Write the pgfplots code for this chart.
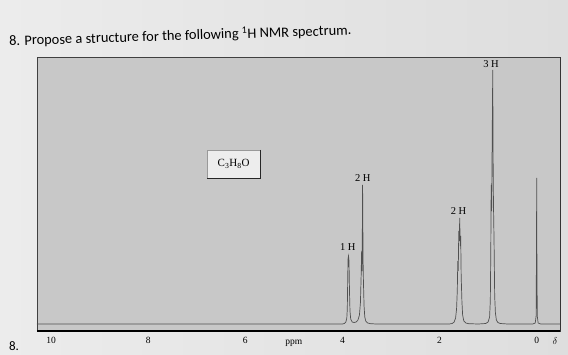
\documentclass[border=0pt]{standalone}
\usepackage{fontspec}
\setmainfont{Liberation Serif}
\newfontfamily\titlefont{Carlito}
\usepackage{pgfplots}
\pgfplotsset{compat=1.18}
\definecolor{outbg}{RGB}{222,222,222}
\definecolor{outbgl}{RGB}{236,236,236}
\definecolor{inbg}{RGB}{200,200,200}
\definecolor{spec}{RGB}{80,80,80}
\begin{document}
\begin{tikzpicture}
\path[use as bounding box] (0,0) rectangle (568pt,354pt);
\shade[left color=outbgl, right color=outbg] (0,0) rectangle (568pt,354pt);
\node[anchor=west, rotate=1.8, inner sep=0pt] at (9pt,313pt) {\titlefont\fontsize{14.4}{16}\selectfont 8. Propose a structure for the following \textsuperscript{1}H NMR spectrum.};
\node[anchor=center, inner sep=0pt] at (14pt,8pt) {\titlefont\fontsize{13}{15}\selectfont 8.};
\begin{axis}[
  at={(37pt,23pt)}, anchor=south west,
  scale only axis, width=523pt, height=274pt,
  xmin=-0.48, xmax=10.29, ymin=0, ymax=274,
  x dir=reverse,
  axis background/.style={fill=inbg},
  axis line style={draw=black!75, line width=0.5pt},
  xtick={0,2,4,6,8,10},
  xticklabels={0,2,4,6,8,10},
  major tick length=0pt,
  ytick=\empty,
  xticklabel style={font=\fontsize{9.5}{10}\selectfont, yshift=-3pt},
  clip=false,
]
\addplot[spec, line width=0.7pt, sharp plot] coordinates {
(10.29,7) (4.00,7) (3.96,7.5) (3.93,9) (3.91,13) (3.90,22) (3.895,40)
(3.885,72) (3.875,75) (3.865,70) (3.855,40) (3.845,20) (3.83,12) (3.80,9)
(3.76,8.5) (3.72,9) (3.68,11) (3.65,16) (3.63,28) (3.615,55) (3.605,80)
(3.595,60) (3.585,146) (3.575,70) (3.568,50) (3.555,25) (3.54,14) (3.52,10)
(3.48,8) (3.42,7.3) (3.30,7)
(1.80,7) (1.74,7.5) (1.70,9) (1.67,13) (1.65,22) (1.635,40) (1.625,70)
(1.615,60) (1.605,100) (1.595,90) (1.585,113) (1.575,85) (1.565,95)
(1.555,55) (1.54,30) (1.525,16) (1.50,10) (1.46,8) (1.40,7.3) (1.20,7)
(1.05,7.5) (1.00,9) (0.97,14) (0.955,30) (0.945,80) (0.937,146) (0.928,120)
(0.918,180) (0.905,261) (0.895,150) (0.888,121) (0.878,90) (0.865,35)
(0.85,18) (0.83,11) (0.80,8.5) (0.75,7.5) (0.60,7)
(0.08,7) (0.03,8) (0.012,15) (0.004,80) (0.0,153) (-0.004,80) (-0.012,15)
(-0.03,8) (-0.08,7) (-0.48,7)
};
% thick bottom line and dark right edge
\draw[black, line width=1.6pt] (axis cs:10.29,0) -- (axis cs:-0.48,0);
\draw[black!80, line width=0.9pt] (axis cs:-0.48,0) -- (axis cs:-0.48,274);
% peak labels
\node[font=\fontsize{10.5}{11}\selectfont] at (axis cs:3.89,84) {1 H};
\node[font=\fontsize{10.5}{11}\selectfont] at (axis cs:3.58,153) {2 H};
\node[font=\fontsize{10.5}{11}\selectfont] at (axis cs:1.61,120) {2 H};
\node[font=\fontsize{10.5}{11}\selectfont] at (axis cs:0.94,267) {3 H};
% formula box
\node[fill=black!7, draw=black!40, line width=0.3pt, minimum width=53pt, minimum height=28pt, inner sep=0pt, font=\fontsize{11}{12}\selectfont] (box) at (axis cs:6.24,167) {C\textsubscript{3}H\textsubscript{8}O};
\draw[black!85, line width=0.9pt] (box.north east) -- (box.south east) -- (box.south west);
% axis words
\node[font=\fontsize{9.5}{10}\selectfont, anchor=base] at (axis cs:5.0,-13.5) {ppm};
\node[font=\fontsize{10}{11}\selectfont, anchor=base] at (axis cs:-0.38,-13.5) {$\delta$};
\end{axis}
\end{tikzpicture}
\end{document}
